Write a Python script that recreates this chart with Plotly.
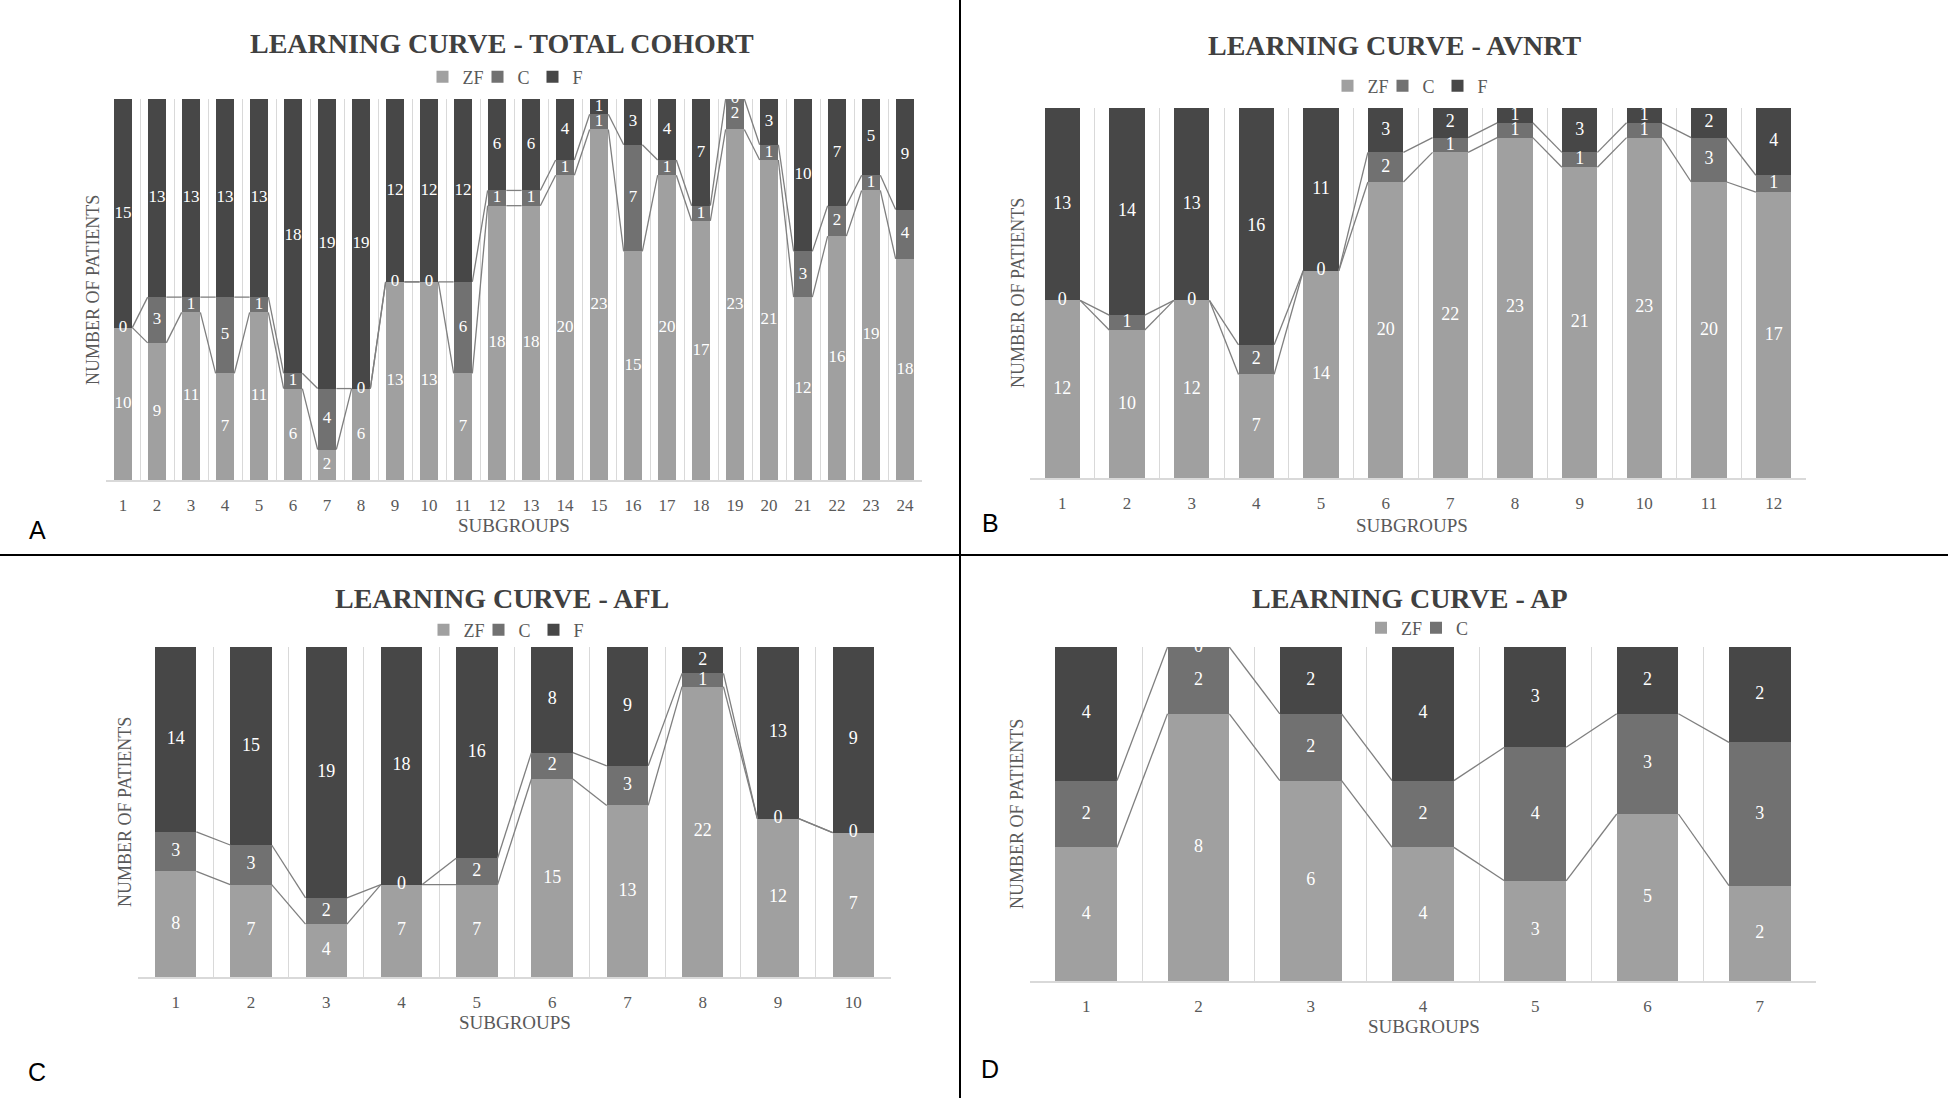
import plotly.graph_objects as go

W, H = 1948, 1098

# panel A - total cohort, 24 subgroups
a_groups = [str(i) for i in range(1, 25)]
a_zf = [10, 9, 11, 7, 11, 6, 2, 6, 13, 13, 7, 18, 18, 20, 23, 15, 20, 17, 23, 21, 12, 16, 19, 18]
a_c = [0, 3, 1, 5, 1, 1, 4, 0, 0, 0, 6, 1, 1, 1, 1, 7, 1, 1, 2, 1, 3, 2, 1, 4]
a_f = [15, 13, 13, 13, 13, 18, 19, 19, 12, 12, 12, 6, 6, 4, 1, 3, 4, 7, 0, 3, 10, 7, 5, 9]

# panel B - AVNRT
b_groups = [str(i) for i in range(1, 13)]
b_zf = [12, 10, 12, 7, 14, 20, 22, 23, 21, 23, 20, 17]
b_c = [0, 1, 0, 2, 0, 2, 1, 1, 1, 1, 3, 1]
b_f = [13, 14, 13, 16, 11, 3, 2, 1, 3, 1, 2, 4]

# panel C - AFL
c_groups = [str(i) for i in range(1, 11)]
c_zf = [8, 7, 4, 7, 7, 15, 13, 22, 12, 7]
c_c = [3, 3, 2, 0, 2, 2, 3, 1, 0, 0]
c_f = [14, 15, 19, 18, 16, 8, 9, 2, 13, 9]

# panel D - AP
d_groups = [str(i) for i in range(1, 8)]
d_zf = [4, 8, 6, 4, 3, 5, 2]
d_c = [2, 2, 2, 2, 4, 3, 3]
d_f = [4, 0, 2, 4, 3, 2, 2]

series_names = ['ZF', 'C', 'F']
colors = ['#a0a0a0', '#717171', '#474747']

SERIF = 'Liberation Serif'
GREY_TXT = '#595959'
GRID = '#d9d9d9'
BAR_W = 0.55


def fx(px):
    return px / W


def fy(py):
    return 1 - py / H


# pixel boxes for each plot area: left, right, top, bottom
panels = [
    dict(title='LEARNING CURVE - TOTAL COHORT', groups=a_groups, data=[a_zf, a_c, a_f],
         box=(106, 922, 99, 480), title_xy=(502, 44), legend_xy=(505, 77),
         ytitle_xy=(93, 290), xtitle_xy=(514, 526), letter='A', letter_xy=(37, 530),
         label_size=17, legend_items=3),
    dict(title='LEARNING CURVE - AVNRT', groups=b_groups, data=[b_zf, b_c, b_f],
         box=(1030, 1806, 108, 478), title_xy=(1395, 45), legend_xy=(1410, 86),
         ytitle_xy=(1018, 293), xtitle_xy=(1412, 526), letter='B', letter_xy=(990, 523),
         label_size=18, legend_items=3),
    dict(title='LEARNING CURVE - AFL', groups=c_groups, data=[c_zf, c_c, c_f],
         box=(138, 891, 647, 977), title_xy=(502, 598), legend_xy=(506, 630),
         ytitle_xy=(125, 812), xtitle_xy=(515, 1022), letter='C', letter_xy=(37, 1072),
         label_size=18, legend_items=3),
    dict(title='LEARNING CURVE - AP', groups=d_groups, data=[d_zf, d_c, d_f],
         box=(1030, 1816, 647, 981), title_xy=(1410, 598), legend_xy=(1416, 628),
         ytitle_xy=(1017, 814), xtitle_xy=(1424, 1026), letter='D', letter_xy=(990, 1069),
         label_size=18, legend_items=2),
]

fig = go.Figure()
layout = dict(
    width=W, height=H,
    margin=dict(l=0, r=0, t=0, b=0),
    paper_bgcolor='white', plot_bgcolor='white',
    barmode='stack', barnorm='percent',
    showlegend=True,
    annotations=[], shapes=[],
)

for k, p in enumerate(panels):
    sfx = '' if k == 0 else str(k + 1)
    xa, ya = 'x' + sfx, 'y' + sfx
    leg = 'legend' + sfx
    n = len(p['groups'])
    xs = list(range(1, n + 1))
    totals = [sum(v) for v in zip(*p['data'])]

    # stacked 100% bars
    for s, vals in enumerate(p['data']):
        fig.add_trace(go.Bar(
            x=xs, y=vals, name=series_names[s], width=BAR_W,
            marker=dict(color=colors[s], line=dict(width=0)),
            xaxis=xa, yaxis=ya, legend=leg,
            showlegend=s < p['legend_items'], hoverinfo='skip',
        ))

    # series lines between the bars (top of ZF and top of ZF+C)
    cum = [0] * n
    tops = []
    mids = []
    for s, vals in enumerate(p['data']):
        mids.append([(cum[i] + vals[i] / 2) / totals[i] * 100 for i in range(n)])
        cum = [cum[i] + vals[i] for i in range(n)]
        tops.append([cum[i] / totals[i] * 100 for i in range(n)])
    for lvl in tops[:2]:
        lx, ly = [], []
        for i in range(n - 1):
            lx += [xs[i] + BAR_W / 2, xs[i + 1] - BAR_W / 2, None]
            ly += [lvl[i], lvl[i + 1], None]
        fig.add_trace(go.Scatter(
            x=lx, y=ly, mode='lines', line=dict(color='#7f7f7f', width=1.3),
            xaxis=xa, yaxis=ya, showlegend=False, hoverinfo='skip',
        ))

    # data labels
    for s, vals in enumerate(p['data']):
        fig.add_trace(go.Scatter(
            x=xs, y=mids[s], mode='text', text=[str(v) for v in vals],
            textfont=dict(family=SERIF, size=p['label_size'], color='white'),
            cliponaxis=True, xaxis=xa, yaxis=ya, showlegend=False, hoverinfo='skip',
        ))

    x0, x1, y0, y1 = p['box']
    layout['xaxis' + sfx] = dict(
        domain=[fx(x0), fx(x1)], anchor=ya, range=[0.5, n + 0.5],
        tickmode='array', tickvals=xs, ticktext=p['groups'],
        ticks='outside', ticklen=9, tickcolor='rgba(0,0,0,0)',
        tickfont=dict(family=SERIF, size=17, color=GREY_TXT),
        showgrid=False, zeroline=False,
        showline=True, linecolor=GRID, linewidth=1.5,
        minor=dict(tickmode='array', tickvals=[i + 0.5 for i in range(n + 1)],
                   showgrid=True, gridcolor=GRID, gridwidth=1.2, ticks=''),
        fixedrange=True,
    )
    layout['yaxis' + sfx] = dict(
        domain=[fy(y1), fy(y0)], anchor=xa, range=[0, 100],
        tickmode='array', tickvals=[0, 100], showticklabels=False,
        showgrid=True, gridcolor=GRID, gridwidth=1.2, zeroline=False,
        showline=False, fixedrange=True,
    )
    lx_, ly_ = p['legend_xy']
    layout[leg] = dict(
        orientation='h', x=fx(lx_), y=fy(ly_), xanchor='center', yanchor='middle',
        xref='paper', yref='paper', traceorder='normal',
        font=dict(family=SERIF, size=18, color=GREY_TXT),
        bgcolor='rgba(0,0,0,0)', itemwidth=30, entrywidth=10, tracegroupgap=0,
    )

    tx, ty = p['title_xy']
    layout['annotations'].append(dict(
        text='<b>' + p['title'] + '</b>', x=fx(tx), y=fy(ty), xref='paper', yref='paper',
        xanchor='center', yanchor='middle', showarrow=False,
        font=dict(family=SERIF, size=28, color='#404040'),
    ))
    ax_, ay_ = p['ytitle_xy']
    layout['annotations'].append(dict(
        text='NUMBER OF PATIENTS', x=fx(ax_), y=fy(ay_), xref='paper', yref='paper',
        xanchor='center', yanchor='middle', showarrow=False, textangle=-90,
        font=dict(family=SERIF, size=18, color=GREY_TXT),
    ))
    bx_, by_ = p['xtitle_xy']
    layout['annotations'].append(dict(
        text='SUBGROUPS', x=fx(bx_), y=fy(by_), xref='paper', yref='paper',
        xanchor='center', yanchor='middle', showarrow=False,
        font=dict(family=SERIF, size=19, color=GREY_TXT),
    ))
    cx_, cy_ = p['letter_xy']
    layout['annotations'].append(dict(
        text=p['letter'], x=fx(cx_), y=fy(cy_), xref='paper', yref='paper',
        xanchor='center', yanchor='middle', showarrow=False,
        font=dict(family='Liberation Sans', size=25, color='black'),
    ))

# panel dividers
layout['shapes'] += [
    dict(type='line', xref='paper', yref='paper', x0=fx(960), x1=fx(960), y0=0, y1=1,
         line=dict(color='black', width=2)),
    dict(type='line', xref='paper', yref='paper', x0=0, x1=1, y0=fy(555), y1=fy(555),
         line=dict(color='black', width=2)),
]

fig.update_layout(**layout)

fig.write_html('out.html', config={'displayModeBar': False},
               post_script="document.body.style.margin='0';")
